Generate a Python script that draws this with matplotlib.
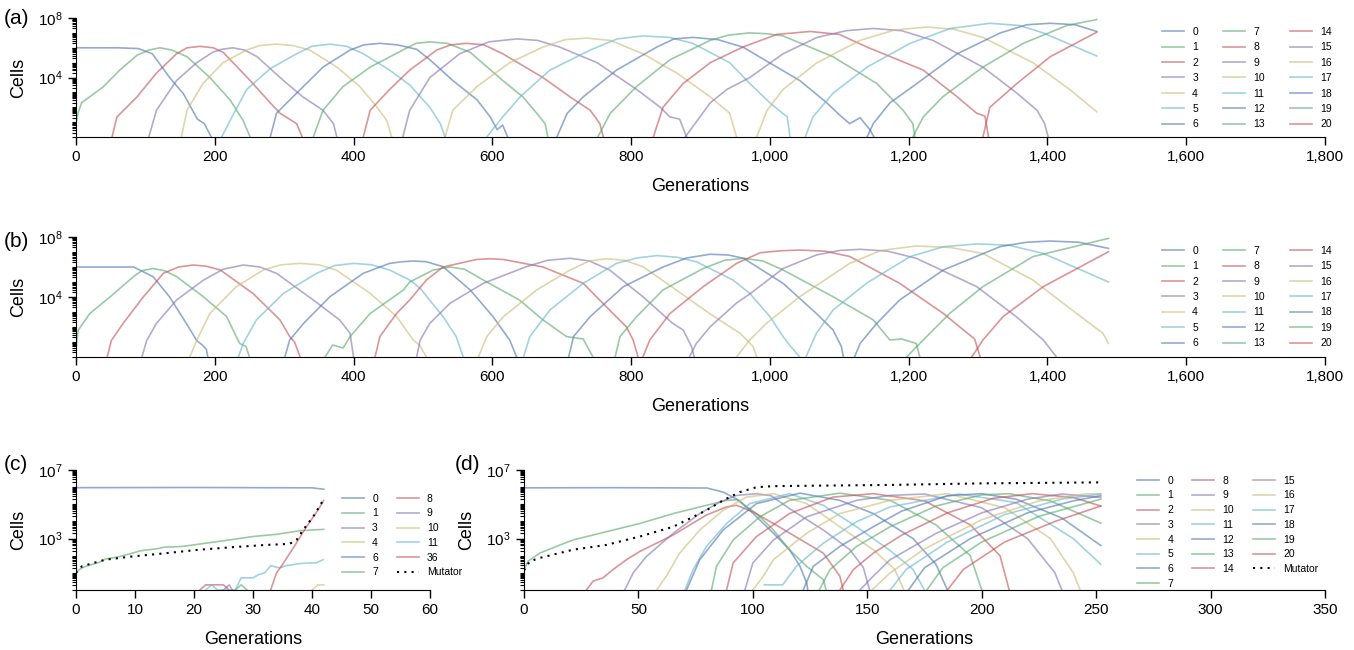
import numpy as np
import matplotlib.pyplot as plt
from matplotlib.ticker import FixedLocator, LogLocator, NullFormatter, FuncFormatter

plt.rcParams['font.family'] = ['Liberation Sans', 'DejaVu Sans']

# old seaborn "deep" palette (6 colours, cycled by clone id)
deep = ['#4C72B0', '#55A868', '#C44E52', '#8172B2', '#CCB974', '#64B5CD']

# (generation, log10 cells)
a_curves = {
    0: [(0, 6.0), (60, 6.0), (90, 5.95), (110, 5.6), (135, 4.0), (155, 2.9), (175, 1.2), (185, 0.9), (195, 0)],
    1: [(0, 0.9), (3, 1.6), (8, 2.3), (39, 3.36), (63, 4.5), (88, 5.5), (105, 5.85), (121, 6.0), (138, 5.85), (160, 5.4), (193, 4.0), (222, 2.5), (241, 1.1), (251, 0)],
    2: [(52, 0), (59, 1.35), (88, 2.7), (116, 4.3), (145, 5.6), (160, 6.0), (179, 6.1), (198, 6.0), (212, 5.7), (251, 3.8), (280, 2.3), (294, 1.6), (318, 0.9), (326, 0)],
    3: [(105, 0), (116, 1.8), (145, 3.8), (174, 5.0), (197, 5.7), (210, 5.9), (226, 6.0), (243, 5.85), (261, 5.4), (299, 3.8), (327, 2.7), (356, 1.8), (371, 0.9), (376, 0)],
    4: [(152, 0), (160, 1.8), (183, 3.6), (212, 5.0), (246, 5.85), (265, 6.15), (289, 6.25), (313, 6.15), (337, 5.85), (376, 4.7), (409, 3.4), (434, 2.0), (448, 1.1), (455, 0)],
    5: [(210, 0), (222, 1.1), (246, 3.2), (280, 4.6), (318, 5.6), (340, 6.1), (366, 6.25), (390, 6.1), (414, 5.6), (452, 4.5), (481, 3.5), (510, 2.0), (525, 0.9), (532, 0)],
    6: [(280, 0), (289, 1.6), (318, 2.95), (356, 4.7), (395, 5.85), (415, 6.2), (438, 6.3), (463, 6.2), (491, 5.9), (510, 5.2), (543, 3.8), (578, 2.5), (597, 1.35), (607, 0.5), (615, 0.8), (622, 0)],
    7: [(342, 0), (356, 1.8), (385, 3.4), (424, 4.7), (471, 5.85), (490, 6.3), (510, 6.4), (535, 6.3), (568, 5.7), (615, 3.8), (644, 2.7), (664, 1.6), (676, 0.9), (680, 0)],
    8: [(414, 0), (424, 1.8), (452, 3.2), (481, 4.5), (520, 5.85), (540, 6.2), (563, 6.3), (588, 6.2), (615, 5.6), (673, 4.0), (712, 2.7), (741, 1.8), (755, 0.9), (760, 0)],
    9: [(471, 0), (481, 1.8), (510, 4.0), (553, 5.6), (595, 6.4), (635, 6.6), (665, 6.5), (697, 6.05), (751, 5.0), (808, 3.2), (842, 2.0), (856, 1.35), (870, 1.2), (880, 0)],
    10: [(532, 0), (543, 1.8), (578, 3.4), (625, 5.0), (673, 6.05), (705, 6.55), (736, 6.65), (770, 6.5), (817, 5.6), (866, 4.3), (914, 2.7), (942, 1.6), (952, 0)],
    11: [(592, 0), (615, 1.35), (640, 2.7), (683, 4.5), (741, 5.85), (780, 6.6), (817, 6.8), (855, 6.7), (889, 6.3), (942, 5.0), (971, 3.6), (1000, 2.3), (1025, 1.35), (1029, 0)],
    12: [(693, 0), (708, 1.6), (731, 2.7), (779, 4.5), (837, 6.05), (862, 6.6), (889, 6.7), (925, 6.55), (961, 6.05), (1043, 3.8), (1082, 2.3), (1100, 1.5), (1115, 0.9), (1130, 1.3), (1144, 0.5), (1150, 0)],
    13: [(752, 0), (770, 1.6), (808, 3.4), (856, 5.2), (914, 6.5), (940, 6.85), (970, 7.0), (995, 6.95), (1019, 6.8), (1091, 5.4), (1154, 3.6), (1192, 1.8), (1206, 0.9), (1209, 0)],
    14: [(832, 0), (846, 2.0), (875, 3.6), (914, 5.0), (961, 6.05), (1010, 6.9), (1058, 7.1), (1100, 6.9), (1140, 6.05), (1221, 4.5), (1270, 2.7), (1298, 1.6), (1310, 1.4), (1315, 0)],
    15: [(878, 0), (914, 2.3), (938, 3.2), (971, 4.0), (1019, 5.6), (1068, 6.7), (1110, 7.15), (1149, 7.3), (1190, 7.15), (1235, 6.5), (1307, 4.7), (1356, 2.95), (1385, 1.8), (1396, 0.9), (1401, 0)],
    16: [(981, 0), (996, 1.8), (1019, 3.2), (1068, 5.0), (1130, 6.5), (1180, 7.2), (1226, 7.4), (1265, 7.25), (1307, 6.7), (1379, 5.0), (1432, 3.2), (1471, 1.7)],
    17: [(1051, 0), (1062, 1.35), (1091, 2.95), (1140, 4.7), (1202, 6.3), (1260, 7.3), (1317, 7.65), (1360, 7.5), (1394, 7.0), (1471, 5.45)],
    18: [(1140, 0), (1149, 0.9), (1173, 2.3), (1212, 3.6), (1270, 5.6), (1332, 7.0), (1370, 7.55), (1404, 7.65), (1440, 7.55), (1471, 7.1)],
    19: [(1206, 0), (1221, 1.35), (1249, 2.7), (1307, 4.7), (1365, 6.3), (1428, 7.5), (1471, 7.9)],
    20: [(1307, 0), (1317, 2.0), (1356, 3.6), (1404, 5.4), (1471, 7.05)],
}

b_curves = {
    0: [(0, 6.0), (60, 6.0), (83, 6.0), (111, 5.36), (135, 4.0), (159, 2.24), (174, 1.1), (182, 0.8), (188, 0.5), (190, 0)],
    1: [(0, 0.3), (1, 1.0), (3.4, 1.8), (20, 2.9), (49, 4.0), (83, 5.36), (95, 5.75), (111, 5.9), (128, 5.75), (145, 5.36), (184, 4.0), (217, 2.7), (231, 1.36), (236, 0.9), (245, 0.7), (250, 0)],
    2: [(45, 0), (51, 1.1), (68, 2.24), (97, 4.0), (126, 5.58), (148, 6.0), (169, 6.13), (188, 6.05), (208, 5.8), (255, 4.24), (294, 2.47), (308, 1.36), (315, 1.0), (323, 0)],
    3: [(95, 0), (102, 1.1), (116, 2.24), (145, 3.8), (184, 5.13), (212, 5.85), (241, 6.13), (265, 6.0), (289, 5.58), (342, 3.8), (380, 2.47), (395, 1.58), (400, 0)],
    4: [(164, 0), (174, 1.1), (193, 2.9), (231, 4.69), (270, 5.8), (296, 6.15), (323, 6.24), (350, 6.15), (375, 5.8), (424, 4.24), (462, 2.7), (486, 1.13), (495, 0.8), (505, 0)],
    5: [(234, 0), (241, 0.9), (260, 2.47), (299, 4.24), (347, 5.58), (373, 6.1), (400, 6.24), (426, 6.15), (452, 5.8), (481, 5.13), (496, 4.58), (529, 2.69), (548, 1.36), (558, 0)],
    6: [(301, 0), (308, 1.13), (328, 2.24), (366, 4.02), (414, 5.58), (452, 6.24), (470, 6.35), (486, 6.4), (505, 6.35), (529, 6.02), (568, 4.47), (601, 2.69), (625, 1.13), (635, 0)],
    7: [(359, 0), (370, 0.8), (385, 0.6), (395, 1.36), (424, 2.9), (472, 4.47), (481, 5.0), (515, 5.8), (539, 6.0), (560, 5.85), (587, 5.13), (639, 3.8), (673, 2.47), (707, 1.36), (731, 1.2), (745, 0)],
    8: [(431, 0), (438, 1.36), (462, 2.9), (481, 3.8), (505, 5.13), (529, 6.0), (577, 6.5), (597, 6.55), (616, 6.5), (673, 6.0), (731, 4.91), (769, 3.13), (793, 2.02), (803, 1.13), (810, 0)],
    9: [(491, 0), (496, 1.13), (510, 2.24), (539, 3.58), (587, 4.91), (649, 6.02), (680, 6.45), (712, 6.58), (740, 6.4), (769, 5.8), (817, 4.02), (860, 2.24), (875, 1.8), (887, 0.7), (891, 0)],
    10: [(580, 0), (592, 1.36), (616, 2.69), (664, 4.47), (712, 5.8), (740, 6.4), (765, 6.55), (790, 6.45), (817, 6.02), (865, 4.47), (913, 2.9), (957, 1.58), (976, 0.7), (981, 0)],
    11: [(645, 0), (654, 1.36), (683, 3.13), (731, 4.91), (779, 6.24), (808, 6.6), (837, 6.76), (866, 6.65), (894, 6.35), (947, 5.13), (971, 4.24), (1000, 2.69), (1019, 1.36), (1030, 0.7), (1043, 0)],
    12: [(710, 0), (717, 1.36), (741, 2.69), (789, 4.69), (846, 6.0), (880, 6.6), (914, 6.85), (940, 6.8), (962, 6.58), (1019, 4.91), (1067, 2.9), (1091, 1.8), (1103, 0.7), (1106, 0)],
    13: [(777, 0), (784, 1.36), (808, 2.69), (846, 4.47), (904, 5.9), (935, 6.45), (962, 6.58), (990, 6.4), (1019, 5.8), (1091, 4.02), (1149, 2.47), (1173, 1.13), (1190, 1.2), (1211, 0.9), (1216, 0)],
    14: [(817, 0), (827, 1.13), (856, 2.9), (904, 4.69), (952, 6.24), (986, 6.95), (1015, 7.08), (1043, 7.13), (1080, 7.05), (1115, 6.7), (1187, 4.91), (1250, 2.9), (1279, 1.8), (1295, 1.2), (1303, 0)],
    15: [(884, 0), (894, 0.9), (914, 2.02), (952, 3.6), (971, 4.2), (1019, 5.9), (1067, 6.8), (1100, 7.1), (1130, 7.18), (1170, 7.05), (1211, 6.58), (1298, 4.69), (1355, 2.69), (1394, 1.13), (1413, 0)],
    16: [(952, 0), (971, 1.13), (995, 2.24), (1043, 4.02), (1115, 6.24), (1160, 7.1), (1211, 7.4), (1260, 7.3), (1307, 6.9), (1379, 5.13), (1442, 2.9), (1480, 1.58), (1488, 0.9)],
    17: [(1052, 0), (1067, 1.58), (1091, 3.13), (1139, 4.91), (1202, 6.69), (1250, 7.35), (1298, 7.54), (1345, 7.45), (1394, 6.9), (1488, 5.0)],
    18: [(1122, 0), (1130, 0.9), (1154, 2.24), (1187, 3.8), (1250, 5.8), (1332, 7.36), (1370, 7.65), (1404, 7.73), (1445, 7.65), (1488, 7.24)],
    19: [(1197, 0), (1221, 1.13), (1259, 2.9), (1307, 4.69), (1379, 6.69), (1488, 7.91)],
    20: [(1291, 0), (1307, 1.13), (1336, 2.69), (1394, 4.69), (1488, 7.02)],
}

c_labels = ['0', '1', '3', '4', '6', '7', '8', '9', '10', '11', '36']
c_colors = [deep[0], deep[1], deep[3], deep[4], deep[0], deep[1], deep[2], deep[3], deep[4], deep[5], deep[2]]
c_curves = {
    '0': [(0, 5.97), (20, 5.98), (40, 5.96), (42, 5.88)],
    '1': [(0, 1.04), (1, 1.29), (2, 1.42), (4, 1.62), (5, 1.81), (7, 1.92), (9, 2.1), (11, 2.29), (14, 2.42), (15, 2.5),
          (18, 2.54), (22, 2.73), (26, 2.92), (30, 3.12), (34, 3.25), (38, 3.46), (42, 3.54)],
    '3': [(25, 0), (26, 0.3), (26.5, 0)],
    '4': [],
    '6': [],
    '7': [(27, 0), (28, 0.3), (29, 0)],
    '8': [(21, 0), (22, 0.3), (25, 0.3), (26, 0)],
    '9': [],
    '10': [(40, 0), (41, 0.3), (42, 0.3)],
    '11': [(22, 0), (23, 0.3), (24, 0), (27, 0), (28, 0.71), (30, 0.71), (31, 0.9), (32, 1.0), (33, 1.42), (34.5, 1.29),
           (35.7, 1.42), (36.8, 1.48), (37.9, 1.54), (39.6, 1.58), (40.7, 1.58), (41.9, 1.77)],
    '36': [(33, 0), (34, 1.0), (35, 1.48), (37, 2.54), (39, 3.65), (41, 4.65), (42, 5.23)],
}
c_mutator = [(0, 1.0), (1, 1.38), (3, 1.58), (5, 1.77), (9.6, 1.96), (15.3, 2.15), (20.9, 2.35), (26.6, 2.5), (32.3, 2.63),
             (36.2, 2.69), (37.4, 2.92), (38.5, 3.5), (40.2, 4.27), (41.9, 5.23)]

d_curves = {
    0: [(0, 5.96), (40, 5.97), (80, 5.95), (87, 5.71), (94, 5.23), (101.6, 4.27), (109, 3.31), (116, 2.35), (120.6, 1.38), (123.5, 0.42), (124, 0)],
    1: [(0, 1.19), (1.7, 1.67), (6.9, 2.15), (14.1, 2.54), (21.4, 2.92), (36, 3.4), (50.6, 3.88), (65.2, 4.46), (79.7, 4.94), (88.5, 5.23),
        (92.9, 5.27), (101.6, 4.46), (109, 3.5), (116, 2.35), (123.5, 1.38), (130.8, 0.6), (132, 0)],
    2: [(27.3, 0), (30.2, 0.52), (34.5, 0.71), (38.9, 1.19), (44.8, 1.77), (50.6, 2.25), (57.9, 2.73), (65.2, 3.21), (72.4, 3.79),
        (79.7, 4.37), (88.5, 4.85), (92.9, 4.94), (100, 4.56), (109, 3.88), (123.5, 2.73), (130.8, 2.15), (138, 0.81), (139.5, 0)],
    3: [(44, 0), (47.7, 1.0), (53.5, 1.96), (65.2, 3.31), (76.8, 4.46), (85.6, 5.13), (92.9, 5.52), (101.6, 5.62), (108, 5.5), (116, 4.75),
        (130.8, 3.5), (142.4, 2.35), (148.3, 1.3), (151, 0)],
    4: [(57.9, 0), (62.2, 0.81), (68, 2.15), (76.8, 3.5), (87, 4.65), (97.2, 5.42), (109, 5.62), (123.5, 5.04), (138, 3.69),
        (152.6, 2.35), (162, 1.2), (166, 0)],
    5: [(70.3, 0), (73.9, 1.19), (79.7, 2.54), (88.5, 3.88), (98.7, 5.04), (116, 5.62), (130.8, 4.94), (145.3, 3.69), (160, 2.3), (170, 1.2), (175, 0)],
    6: [(71, 0), (76.8, 1.77), (87, 3.5), (101.6, 5.04), (120.6, 5.65), (138, 5.23), (152.6, 4.46), (170, 3.0), (180, 1.5), (185, 0)],
    7: [(81.9, 0), (84.1, 1.38), (91.4, 2.92), (103, 4.27), (116, 5.23), (138, 5.65), (160, 5.23), (180, 3.8), (195, 2.0), (200, 0)],
    8: [(88.5, 0), (91.4, 1.58), (101.6, 3.12), (116, 4.46), (135, 5.42), (152.6, 5.62), (175, 5.2), (195, 3.8), (208, 2.0), (212, 0)],
    9: [(96.5, 0), (100, 1.58), (109, 2.92), (123.5, 4.27), (145.3, 5.23), (160, 5.52), (175, 5.6), (200, 4.8), (220, 3.0), (232, 1.0), (235, 0)],
    10: [(100, 0), (104.5, 0.8), (109, 1.77), (123.5, 3.31), (138, 4.46), (160, 5.23), (185, 5.62), (210, 4.8), (230, 3.0), (240, 1.0), (243, 0)],
    11: [(105, 0.3), (113, 0.3), (119, 1.38), (130.8, 2.73), (145.3, 3.98), (160, 4.85), (190, 5.6), (215, 5.1), (240, 3.0), (252, 1.5)],
    12: [(122, 0), (126.4, 1.38), (138, 2.54), (152.6, 3.69), (165, 4.6), (185, 5.5), (200, 5.62), (215, 5.3), (235, 4.2), (252, 2.6)],
    13: [(129, 0), (133.7, 1.19), (145.3, 2.54), (160, 3.69), (180, 4.9), (200, 5.55), (212, 5.62), (230, 5.2), (252, 3.9)],
    14: [(138, 0), (143.9, 1.19), (152.6, 2.15), (165, 3.2), (185, 4.5), (205, 5.35), (222, 5.62), (240, 5.4), (252, 4.9)],
    15: [(146.8, 0), (152.6, 0.81), (160, 1.77), (180, 3.3), (200, 4.5), (220, 5.3), (235, 5.6), (252, 5.4)],
    16: [(152, 0), (160, 1.0), (175, 2.4), (200, 4.1), (225, 5.2), (245, 5.6), (252, 5.62)],
    17: [(160, 0), (167, 1.2), (185, 2.8), (210, 4.4), (235, 5.3), (252, 5.6)],
    18: [(168, 0), (175, 1.3), (195, 3.0), (220, 4.5), (240, 5.2), (252, 5.5)],
    19: [(176, 0), (183, 1.3), (200, 2.8), (225, 4.3), (252, 5.3)],
    20: [(185, 0), (192, 1.2), (210, 2.8), (232, 4.0), (252, 4.9)],
}
d_mutator = [(0, 1.15), (2.5, 1.67), (6.9, 1.87), (21.4, 2.35), (36, 2.63), (50.6, 3.12), (65.2, 3.69), (79.7, 4.65), (87, 5.23),
             (94.3, 5.71), (101.6, 6.0), (109, 6.06), (160, 6.13), (200, 6.22), (252, 6.28)]


def xy(pts):
    g = np.array([p[0] for p in pts], dtype=float)
    v = 10 ** np.array([p[1] for p in pts], dtype=float)
    return g, v


def style_axis(ax, xmax, xstep, ymax, yticks, comma=False):
    ax.set_yscale('log')
    ax.set_ylim(1, ymax)
    ax.set_xlim(0, xmax)
    ax.set_xticks(np.arange(0, xmax + 1, xstep))
    if comma:
        ax.xaxis.set_major_formatter(FuncFormatter(lambda v, p: f'{int(v):,}'))
    ax.yaxis.set_major_locator(FixedLocator(yticks))
    ax.yaxis.set_minor_locator(LogLocator(base=10, subs=np.arange(1, 10), numticks=100))
    ax.yaxis.set_minor_formatter(NullFormatter())
    for s in ['top', 'right']:
        ax.spines[s].set_visible(False)
    ax.tick_params(direction='out', length=6, width=1, labelsize=11)
    ax.tick_params(which='minor', direction='out', length=3, width=0.8)
    ax.set_ylabel('Cells', fontsize=13, labelpad=8)
    ax.set_xlabel('Generations', fontsize=13, labelpad=10)


def plot_clones(ax, curves, colors, labels):
    for key, col, lab in zip(curves, colors, labels):
        pts = curves[key]
        if pts:
            g, v = xy(pts)
        else:
            g, v = [], []
        ax.plot(g, v, color=col, alpha=0.6, lw=1.2, label=lab)


fig = plt.figure(figsize=(13.54, 6.5), dpi=100)
ax_a = fig.add_axes([0.0561, 0.7892, 0.9225, 0.183])
ax_b = fig.add_axes([0.0561, 0.4508, 0.9225, 0.1846])
ax_c = fig.add_axes([0.0561, 0.0923, 0.2614, 0.1846])
ax_d = fig.add_axes([0.387, 0.0923, 0.5916, 0.1846])

leg_kw = dict(frameon=False, fontsize=7.5, handlelength=2.1, handletextpad=0.8,
              labelspacing=0.45, columnspacing=1.8, loc='upper left')

for ax, curves in [(ax_a, a_curves), (ax_b, b_curves)]:
    keys = list(curves)
    plot_clones(ax, curves, [deep[k % 6] for k in keys], [str(k) for k in keys])
    style_axis(ax, 1800, 200, 1e8, [1e4, 1e8], comma=True)
    ax.legend(ncol=3, bbox_to_anchor=(0.862, 1.005),
              **{**leg_kw, 'labelspacing': 0.52, 'columnspacing': 2.4})

plot_clones(ax_c, c_curves, c_colors, c_labels)
g, v = xy(c_mutator)
ax_c.plot(g, v, color='black', ls=(0, (1, 2.5)), lw=1.5, label='Mutator')
style_axis(ax_c, 60, 10, 1e7, [1e3, 1e7])
ax_c.legend(ncol=2, bbox_to_anchor=(0.725, 0.88), **leg_kw)

keys = list(d_curves)
plot_clones(ax_d, d_curves, [deep[k % 6] for k in keys], [str(k) for k in keys])
g, v = xy(d_mutator)
ax_d.plot(g, v, color='black', ls=(0, (1, 2.5)), lw=1.5, label='Mutator')
style_axis(ax_d, 350, 50, 1e7, [1e3, 1e7])
ax_d.legend(ncol=3, bbox_to_anchor=(0.754, 1.03), **leg_kw)

for lab, x, y in [('(a)', 0.003, 0.972), ('(b)', 0.003, 0.628), ('(c)', 0.003, 0.285), ('(d)', 0.336, 0.285)]:
    fig.text(x, y, lab, fontsize=15, va='center')

fig.savefig('out.png', dpi=100)
